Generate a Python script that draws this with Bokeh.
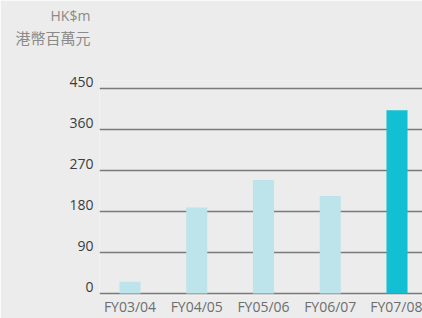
from bokeh.plotting import figure
from bokeh.models import Range1d, FixedTicker, LinearAxis, Title
from bokeh.embed import file_html
from bokeh.resources import INLINE

categories = ["FY03/04", "FY04/05", "FY05/06", "FY06/07", "FY07/08"]
values = [26, 189, 249, 214, 402]
bar_colors = ["#bce4ea", "#bce4ea", "#bce4ea", "#bce4ea", "#13bfd3"]
y_ticks = [0, 90, 180, 270, 360, 450]
unit_en = "HK$m"
unit_zh = "港幣百萬元"

xs = list(range(len(categories)))

y0, y1 = -4.39, 467.56
shift = 13.2  # label offset above gridline (in data units)

bg = "#ebeceb"
p = figure(width=422, height=318, output_backend="svg", toolbar_location=None,
           x_range=Range1d(-0.457, 4.382), y_range=Range1d(y0, y1),
           min_border_left=99, min_border_right=0, min_border_top=80, min_border_bottom=20,
           background_fill_color=bg, border_fill_color=bg, outline_line_color=None)
p.extra_y_ranges = {"lab": Range1d(y0 - shift, y1 - shift)}

p.vbar(x=xs, top=values, width=0.315, bottom=0, color=bar_colors, line_color=None)

p.xgrid.visible = False
p.ygrid.ticker = FixedTicker(ticks=y_ticks)
p.ygrid.grid_line_color = "#7a7a7a"
p.ygrid.grid_line_width = 1.3

p.yaxis.visible = False
lab_axis = LinearAxis(y_range_name="lab", ticker=FixedTicker(ticks=y_ticks))
lab_axis.axis_line_color = None
lab_axis.major_tick_line_color = None
lab_axis.minor_tick_line_color = None
lab_axis.major_tick_out = 0
lab_axis.major_tick_in = 0
lab_axis.major_label_text_font = "Open Sans"
lab_axis.major_label_text_font_size = "14px"
lab_axis.major_label_text_color = "#3c3c3c"
lab_axis.major_label_standoff = 6
p.add_layout(lab_axis, "left")

p.xaxis.ticker = FixedTicker(ticks=xs)
p.xaxis.major_label_overrides = {i: c for i, c in zip(xs, categories)}
p.xaxis.axis_line_color = None
p.xaxis.major_tick_line_color = None
p.xaxis.minor_tick_line_color = None
p.xaxis.major_tick_out = 0
p.xaxis.major_tick_in = 0
p.xaxis.major_label_text_font = "Open Sans"
p.xaxis.major_label_text_font_size = "14px"
p.xaxis.major_label_text_color = "#6e6e6e"
p.xaxis.major_label_standoff = 1

spacer = Title(text=" ", standoff=11, text_font="Open Sans", text_font_size="14px",
               text_color=bg, text_font_style="normal")
t_zh = Title(text=unit_zh, align="left", offset=-84, vertical_align="middle", standoff=0,
             text_font="Noto Sans CJK TC", text_font_size="15px", text_color="#8a8a8a",
             text_font_style="normal")
t_en = Title(text=unit_en, align="left", offset=-49, vertical_align="middle", standoff=0,
             text_font="Open Sans", text_font_size="14px", text_color="#8a8a8a",
             text_font_style="normal")
p.add_layout(spacer, "above")
p.add_layout(t_zh, "above")
p.add_layout(t_en, "above")

open("out.html", "w").write(file_html(p, INLINE))
